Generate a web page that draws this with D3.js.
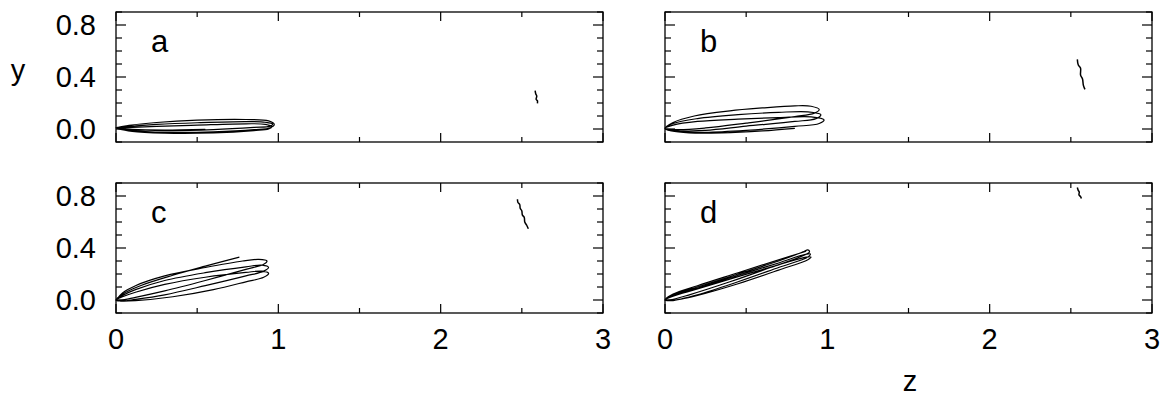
<!DOCTYPE html>
<html>
<head>
<meta charset="utf-8">
<script src="https://cdn.jsdelivr.net/npm/d3@7"></script>
<style>
  body { margin: 0; background: #fff; }
  text { font-family: "Liberation Sans", Arial, sans-serif; fill: #000; }
</style>
</head>
<body>
<svg id="chart" width="1173" height="398"></svg>
<script>
// tick values
var zTicks = [0, 1, 2, 3];
var zMinor = [0.5, 1.5, 2.5];
var yTicks = [0.0, 0.4, 0.8];
var yMinor = [-0.1, 0.1, 0.2, 0.3, 0.5, 0.6, 0.7, 0.9];
var panelNames = ["a", "b", "c", "d"];

// trajectories [z, y]
var orbitA = [[0.55,-0.002],[0.3,-0.008],[0.1,-0.003],[0.0,0.01],
  [0.1,-0.012],[0.3,-0.025],[0.6,-0.022],[0.85,-0.005],[0.95,0.01],[0.975,0.035],[0.94,0.062],[0.8,0.073],[0.5,0.068],[0.25,0.05],[0.08,0.028],[0.0,0.01],
  [0.1,-0.004],[0.3,-0.012],[0.6,-0.005],[0.85,0.012],[0.95,0.022],[0.965,0.038],[0.92,0.052],[0.8,0.057],[0.5,0.048],[0.25,0.035],[0.08,0.02],[0.0,0.01],
  [0.1,-0.018],[0.3,-0.032],[0.6,-0.03],[0.85,-0.012],[0.94,0.0],[0.96,0.018],[0.92,0.036],[0.8,0.04],[0.5,0.03],[0.25,0.02],[0.1,0.013],[0.02,0.008]];
var orbitB = [[0.8,0.005],[0.6,-0.015],[0.35,-0.03],[0.15,-0.03],[0.04,-0.015],[0.0,0.005],
  [0.05,0.05],[0.18,0.1],[0.4,0.14],[0.6,0.162],[0.8,0.178],[0.9,0.175],[0.95,0.15],[0.92,0.122],[0.8,0.095],[0.5,0.045],[0.25,0.008],[0.08,-0.005],[0.0,0.005],
  [0.05,0.042],[0.2,0.08],[0.45,0.11],[0.7,0.128],[0.88,0.132],[0.96,0.11],[0.93,0.08],[0.8,0.058],[0.5,0.022],[0.25,-0.01],[0.08,-0.015],[0.0,0.005],
  [0.05,0.03],[0.2,0.058],[0.45,0.076],[0.7,0.088],[0.9,0.093],[0.98,0.07],[0.95,0.042],[0.8,0.02],[0.5,-0.01],[0.25,-0.025],[0.08,-0.02],[0.0,0.0]];
var orbitC = [[0.0,0.0],[0.04,0.055],[0.12,0.11],[0.3,0.185],[0.55,0.25],[0.78,0.3],[0.88,0.312],[0.93,0.3],[0.91,0.275],[0.8,0.235],[0.55,0.15],[0.3,0.07],[0.12,0.02],[0.03,-0.002],[0.0,0.0],
  [0.04,0.035],[0.12,0.08],[0.3,0.15],[0.55,0.21],[0.8,0.255],[0.9,0.268],[0.94,0.25],[0.91,0.222],[0.8,0.185],[0.55,0.11],[0.3,0.04],[0.12,0.005],[0.03,-0.008],[0.0,0.0],
  [0.04,0.025],[0.12,0.06],[0.3,0.12],[0.55,0.175],[0.8,0.212],[0.9,0.222],[0.94,0.205],[0.91,0.175],[0.8,0.14],[0.6,0.08],[0.35,0.025],[0.12,-0.005],[0.03,-0.008],[0.0,0.0],
  [0.04,0.045],[0.15,0.11],[0.35,0.19],[0.55,0.26],[0.76,0.33]];
var orbitD = [[0.0,0.0],[0.05,0.04],[0.2,0.1],[0.45,0.2],[0.7,0.3],[0.85,0.37],[0.88,0.385],[0.89,0.37],[0.85,0.34],[0.65,0.25],[0.4,0.14],[0.15,0.04],[0.03,0.0],[0.0,0.0],
  [0.05,0.035],[0.2,0.09],[0.45,0.19],[0.7,0.285],[0.86,0.35],[0.895,0.355],[0.88,0.33],[0.7,0.25],[0.45,0.14],[0.2,0.04],[0.04,-0.005],[0.0,0.0],
  [0.05,0.03],[0.2,0.085],[0.45,0.18],[0.7,0.27],[0.87,0.33],[0.9,0.33],[0.88,0.31],[0.7,0.23],[0.45,0.125],[0.2,0.035],[0.04,-0.005],[0.0,0.0],
  [0.05,0.045],[0.2,0.11],[0.45,0.21],[0.7,0.31],[0.87,0.375]];

// small fragments far out in z
var squiggleA = [[2.582,0.295],[2.586,0.269],[2.592,0.254],[2.588,0.228],[2.596,0.218],[2.596,0.197]];
var squiggleB = [[2.540,0.536],[2.546,0.492],[2.560,0.467],[2.560,0.415],[2.572,0.385],[2.577,0.338],[2.587,0.305]];
var squiggleC = [[2.473,0.775],[2.476,0.75],[2.487,0.735],[2.49,0.705],[2.5,0.685],[2.503,0.655],[2.515,0.635],[2.518,0.6],[2.53,0.575],[2.540,0.548]];
var squiggleD = [[2.54,0.865],[2.545,0.845],[2.552,0.83],[2.55,0.81],[2.56,0.795],[2.565,0.78]];

var orbits = [orbitA, orbitB, orbitC, orbitD];
var squiggles = [squiggleA, squiggleB, squiggleC, squiggleD];

var svg = d3.select("#chart");
var panelW = 487, panelH = 130;
var lefts = [116, 665], tops = [12, 183];

var x = d3.scaleLinear().domain([0, 3]).range([0, panelW]);
var y = d3.scaleLinear().domain([-0.1, 0.9]).range([panelH, 0]);

var line = d3.line()
  .x(function(d){ return x(d[0]); })
  .y(function(d){ return y(d[1]); })
  .curve(d3.curveCatmullRom.alpha(0.5));

panelNames.forEach(function(name, i){
  var col = i % 2, row = Math.floor(i / 2);
  var g = svg.append("g")
    .attr("transform", "translate(" + lefts[col] + "," + tops[row] + ")");

  g.append("rect")
    .attr("width", panelW).attr("height", panelH)
    .attr("fill", "none").attr("stroke", "#000").attr("stroke-width", 1.3);

  // ticks pointing inward on all four sides
  var ticks = g.append("g").attr("stroke", "#000").attr("stroke-width", 1.2);
  zTicks.concat(zMinor).forEach(function(t){
    var len = zTicks.indexOf(t) >= 0 ? 9 : 5;
    ticks.append("line").attr("x1", x(t)).attr("x2", x(t)).attr("y1", 0).attr("y2", len);
    ticks.append("line").attr("x1", x(t)).attr("x2", x(t)).attr("y1", panelH).attr("y2", panelH - len);
  });
  yTicks.concat(yMinor).forEach(function(t){
    var len = yTicks.indexOf(t) >= 0 ? 10 : 6;
    ticks.append("line").attr("y1", y(t)).attr("y2", y(t)).attr("x1", 0).attr("x2", len);
    ticks.append("line").attr("y1", y(t)).attr("y2", y(t)).attr("x1", panelW).attr("x2", panelW - len);
  });

  if (col === 0) {
    g.selectAll(".ylab").data(yTicks).enter().append("text")
      .attr("x", -20).attr("y", function(d){ return y(d); })
      .attr("dy", "0.36em").attr("text-anchor", "end")
      .style("font-size", "29px")
      .text(function(d){ return d3.format(".1f")(d); });
  }
  if (row === 1) {
    g.selectAll(".xlab").data(zTicks).enter().append("text")
      .attr("x", function(d){ return x(d); }).attr("y", panelH + 36)
      .attr("text-anchor", "middle")
      .style("font-size", "29px")
      .text(function(d){ return d; });
  }

  g.append("text").attr("x", 35).attr("y", 40)
    .style("font-size", "31px").text(name);

  g.append("path").datum(orbits[i])
    .attr("d", line).attr("fill", "none")
    .attr("stroke", "#000").attr("stroke-width", 1.2);

  g.append("path").datum(squiggles[i])
    .attr("d", line).attr("fill", "none")
    .attr("stroke", "#000").attr("stroke-width", 1.5);
});

svg.append("text").attr("x", 18).attr("y", 80).attr("text-anchor", "middle")
  .style("font-size", "29px").text("y");
svg.append("text").attr("x", 910).attr("y", 391).attr("text-anchor", "middle")
  .style("font-size", "29px").text("z");
</script>
</body>
</html>
